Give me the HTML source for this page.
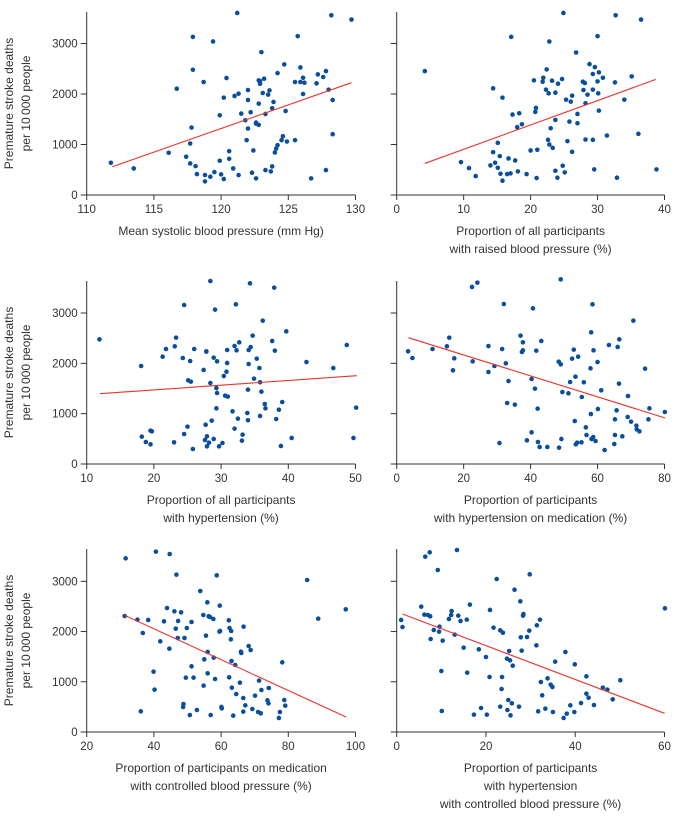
<!DOCTYPE html>
<html><head><meta charset="utf-8">
<style>
html,body{margin:0;padding:0;background:#fff;}
svg{display:block;font-family:"Liberation Sans",sans-serif;}
.tk{font-size:11.5px;fill:#333;}
.tt{font-size:12px;fill:#333;}
</style></head>
<body>
<svg id="chart" width="674" height="818" viewBox="0 0 674 818"></svg>
<script>
// ---- Panel 1: mean systolic blood pressure ----
const p1X=[111.8,113.5,116.1,116.7,117.4,117.7,117.7,117.8,117.9,117.9,118.1,118.2,118.7,118.8,118.8,119.2,119.4,119.5,119.9,119.9,120.0,120.2,120.2,120.4,120.6,120.6,120.9,121.0,121.2,121.3,121.3,121.5,121.8,121.9,122.0,122.0,122.0,122.2,122.3,122.4,122.6,122.6,122.6,122.8,122.8,122.8,122.9,122.9,123.0,123.1,123.2,123.3,123.3,123.5,123.6,123.7,123.8,123.8,123.9,124.0,124.1,124.2,124.2,124.5,124.6,124.7,124.8,124.9,125.5,125.5,125.7,125.9,125.9,126.1,126.1,126.2,126.7,127.1,127.2,127.6,127.8,127.8,128.0,128.2,128.3,128.3,129.7];
const p1Y=[638,526,836,2105,757,625,1020,1336,2480,3130,572,414,2237,270,395,362,3040,454,1579,678,408,316,1928,2316,717,868,526,1961,3605,2007,395,1612,1480,1086,1316,1882,2079,1638,441,882,1434,1414,329,1809,1388,2270,2257,2204,2829,2020,2303,1605,493,1987,2072,467,566,1717,1842,842,921,987,2414,1086,1164,2586,1664,1059,2237,1086,3145,2237,2526,2322,2000,2224,329,2211,2388,2336,2454,493,2086,3559,1204,1882,3474];
const p1LineX=[111.9,129.7];
const p1LineY=[559,2224];
const p1Ticks=[110,115,120,125,130];
// ---- Panel 2: raised blood pressure ----
const p2X=[4.2,9.6,10.8,11.8,14.0,14.4,14.4,14.7,15.1,15.1,15.4,15.5,15.8,15.8,16.5,16.7,17.0,17.1,17.3,17.7,18.0,18.1,18.3,18.7,19.4,20.0,20.5,20.7,20.8,20.9,21.0,21.8,21.9,22.3,22.4,22.6,22.7,22.8,22.8,23.0,23.2,23.3,23.7,23.7,23.7,24.0,24.1,24.7,24.8,24.9,25.1,25.3,25.5,25.8,26.0,26.2,26.2,26.8,27.0,27.0,27.8,27.9,28.1,28.2,28.2,28.5,28.8,29.3,29.3,29.3,29.5,29.6,30.0,30.0,30.1,30.2,30.2,30.8,31.4,32.6,32.7,32.9,34.0,35.1,36.1,36.5,38.8];
const p2Y=[2454,651,533,375,586,2112,849,638,1033,539,770,421,1928,283,414,724,428,3132,1592,684,1342,467,1618,1401,414,882,2270,1645,1724,336,895,2243,2322,2086,2487,1092,2013,3039,1000,1322,2263,934,1487,2026,480,342,2204,2296,579,3605,447,1888,1066,1454,1849,855,1967,2822,1605,1421,2243,2079,2217,1816,1099,1987,2592,2395,1092,2086,507,2533,3145,2250,2013,1671,2428,2322,1178,2230,3559,342,1888,2349,1211,3474,507];
const p2LineX=[4.2,38.7];
const p2LineY=[625,2289];
const p2Ticks=[0,10,20,30,40];
// ---- Panel 3: hypertension ----
const p3X=[11.9,18.1,18.2,18.8,19.5,19.5,19.7,21.3,21.8,23.0,23.1,23.3,24.3,24.5,24.5,25.0,25.1,25.4,25.5,25.8,26.0,27.4,27.6,27.7,27.8,27.8,27.9,27.9,28.2,28.4,28.4,28.6,28.9,28.9,29.1,29.3,29.3,29.4,29.4,29.7,30.2,30.4,30.6,30.8,30.9,30.9,31.0,31.7,32.0,32.0,32.2,32.3,32.5,32.7,33.1,33.2,33.9,34.0,34.0,34.1,34.1,34.3,34.4,34.7,34.9,35.3,35.7,35.8,35.8,36.0,36.2,36.5,36.6,37.6,37.9,38.0,38.2,38.6,38.9,39.1,39.7,40.5,42.7,46.7,48.7,49.7,50.1];
const p3Y=[2477,1947,543,437,391,662,649,2132,2285,430,2338,2510,2106,596,3159,742,1662,2046,1636,298,2285,1868,477,781,2238,2232,550,351,424,1609,3636,861,497,2113,3066,1510,1106,2040,1411,351,417,1748,1358,1834,2265,2007,1338,1046,2344,702,3172,2258,901,2417,464,583,1013,1477,868,1987,2265,3589,2324,2550,1695,2093,1907,954,1623,1437,2848,1192,1106,2444,3503,2252,894,1079,358,1232,2636,517,2026,1907,2364,517,1119];
const p3LineX=[12.0,50.2];
const p3LineY=[1397,1755];
const p3Ticks=[10,20,30,40,50];
// ---- Panel 4: hypertension on medication ----
const p4X=[3.4,4.7,10.7,15.0,15.7,16.8,17.2,22.5,22.7,24.1,27.4,27.4,29.2,30.7,31.5,32.0,32.6,33.0,33.4,35.3,37.0,37.4,37.7,37.7,38.9,40.3,40.3,40.7,41.3,41.7,42.1,42.2,42.7,43.2,45.0,48.4,48.5,49.0,49.0,49.2,49.5,51.3,51.8,52.4,52.9,53.2,53.4,53.5,53.9,54.2,55.2,55.3,55.9,56.5,56.7,57.9,58.0,58.1,58.2,58.5,58.7,58.8,59.4,60.0,60.1,61.1,62.1,63.4,65.0,65.2,65.2,65.7,66.0,66.4,66.5,67.4,69.0,69.1,70.0,70.7,71.6,71.7,72.5,74.2,75.2,75.5,80.1];
const p4Y=[2238,2106,2285,2338,2510,1861,2099,3517,2040,3603,1828,2344,1947,417,2285,3179,2000,1212,1649,1179,2550,2225,2258,2417,470,1689,629,3093,1497,2252,1099,437,338,2444,338,2033,325,3669,1980,497,1430,1404,1629,2093,2272,854,1735,391,424,2132,430,1331,1623,728,576,1901,993,2616,497,3172,536,2258,457,2026,1093,1464,278,2364,397,576,887,1066,2325,1596,2477,550,934,1351,841,2848,762,689,649,1894,887,1106,1033];
const p4LineX=[3.5,80.2];
const p4LineY=[2510,914];
const p4Ticks=[0,20,40,60,80];
// ---- Panel 5: controlled BP among medicated ----
const p5X=[31.6,31.3,35.1,36.1,36.7,38.3,39.9,40.2,40.6,41.9,43.0,43.9,44.6,44.7,46.1,46.5,46.7,47.1,47.2,48.1,48.7,48.8,49.1,49.5,49.8,50.7,51.2,51.2,51.8,52.8,53.8,54.7,54.8,55.0,55.5,55.9,56.0,56.0,56.3,56.7,56.9,57.7,57.8,58.2,58.7,59.5,59.6,59.7,60.1,60.2,62.3,62.4,62.5,62.9,63.0,63.1,63.2,63.6,64.2,64.5,65.6,65.9,66.0,66.6,66.6,66.7,67.2,68.2,68.8,69.3,70.1,71.3,71.0,71.8,72.0,73.8,74.1,74.2,77.2,77.5,78.2,78.8,79.1,85.6,88.9,97.1];
const p5Y=[3457,2309,2236,411,1971,2230,1201,843,3590,1805,2203,2468,1659,3543,2402,2057,3132,1871,2210,2382,498,557,1871,1082,2070,338,1307,2190,1082,438,2807,2329,922,1447,1918,2581,1593,1168,2303,2289,338,2250,1480,1055,3119,1997,2515,2011,498,471,2223,1088,2070,1845,2011,1413,883,325,1334,756,982,1599,1573,405,677,2097,531,1712,1632,458,723,1022,398,372,836,630,571,876,279,398,1387,637,524,3026,2256,2442];
const p5LineX=[31.3,97.2];
const p5LineY=[2322,299];
const p5Ticks=[20,40,60,80,100];
// ---- Panel 6: controlled BP among hypertensive ----
const p6X=[1.0,1.3,5.5,6.4,6.2,7.0,7.4,7.5,7.6,8.3,9.2,9.5,9.6,10.0,10.1,10.3,11.7,12.2,12.3,13.0,13.5,13.8,14.3,15.0,15.7,15.8,16.4,17.3,18.4,18.9,20.0,20.2,20.8,20.9,21.7,22.4,23.2,23.2,23.5,23.6,23.8,24.7,24.8,25.0,25.2,25.4,25.5,25.8,26.0,26.4,27.4,27.7,27.8,28.0,28.3,28.4,29.2,29.7,29.8,31.3,31.4,31.7,32.1,32.3,32.6,33.3,33.8,34.5,34.9,35.0,35.5,37.4,37.8,38.1,38.9,39.8,39.9,41.3,42.5,42.5,43.0,44.2,46.2,47.2,48.4,50.1,60.1];
const p6Y=[2230,2090,2495,3490,2336,2329,3577,2303,1851,2031,3225,1997,2097,1214,418,1818,2250,2329,2409,1938,3623,2316,2210,1679,2236,1181,2535,345,1646,478,1493,345,1095,2429,2077,3046,2024,504,856,1095,1977,1460,438,637,1612,1427,332,571,1320,2833,504,2601,1885,1619,2316,2349,1891,2017,3139,1725,2123,411,2236,995,730,465,1068,942,896,398,1400,279,1593,365,531,398,1347,577,763,1108,683,537,883,843,650,1029,2462];
const p6LineX=[1.3,60.0];
const p6LineY=[2349,372];
const p6Ticks=[0,20,40,60];
const yTicks=[0,1000,2000,3000];

const NS='http://www.w3.org/2000/svg';
const svg=document.getElementById('chart');
function mk(tag,attrs,parent){const e=document.createElementNS(NS,tag);for(const k in attrs)e.setAttribute(k,attrs[k]);(parent||svg).appendChild(e);return e;}

function panel(id,cfg,xs,ys,lx,ly,xt,titles,showY){
  const g=mk('g',{});
  
  
  const X=v=>cfg.x0+(v-cfg.xmin)/(cfg.xmax-cfg.xmin)*(cfg.x1-cfg.x0);
  const Y=v=>cfg.y0-v/3000*(cfg.y0-cfg.y3);
  // axes
  const ya=mk('line',{x1:cfg.x0,y1:cfg.ytop,x2:cfg.x0,y2:cfg.y0,stroke:'#333','stroke-width':1},g);
  
  
  const xa=mk('line',{x1:cfg.x0,y1:cfg.y0,x2:cfg.x1,y2:cfg.y0,stroke:'#333','stroke-width':1},g);
  
  
  yTicks.forEach(t=>{
    mk('line',{x1:cfg.x0-6,y1:Y(t),x2:cfg.x0,y2:Y(t),stroke:'#333'},g);
    if(showY){const tx=mk('text',{x:cfg.x0-9,y:Y(t)+4,'text-anchor':'end',class:'tk'},g);tx.textContent=t;
      
      }
  });
  xt.forEach(t=>{
    mk('line',{x1:X(t),y1:cfg.y0,x2:X(t),y2:cfg.y0+5,stroke:'#333'},g);
    const tx=mk('text',{x:X(t),y:cfg.y0+18,'text-anchor':'middle',class:'tk'},g);tx.textContent=t;
    
    
  });
  // points
  xs.forEach((v,i)=>{
    const c=mk('circle',{cx:X(v),cy:Y(ys[i]),r:2.3,fill:'#0a4f9c'},g);
    
    
  });
  const ln=mk('line',{x1:X(lx[0]),y1:Y(ly[0]),x2:X(lx[1]),y2:Y(ly[1]),stroke:'#e8352c','stroke-width':1.1},g);
  
  
  const cx=(cfg.x0+cfg.x1)/2;
  titles.forEach((s,i)=>{
    const tx=mk('text',{x:cx,y:cfg.y0+40+i*18,'text-anchor':'middle',class:'tt'},g);tx.textContent=s;
    
    
  });
  if(showY){
    const yc=(cfg.ytop+cfg.y0)/2;
    const t1=mk('text',{x:0,y:0,'text-anchor':'middle',class:'tt',transform:`translate(13,${yc}) rotate(-90)`},g);t1.textContent='Premature stroke deaths';
    
    
    const t2=mk('text',{x:0,y:0,'text-anchor':'middle',class:'tt',transform:`translate(30,${yc}) rotate(-90)`},g);t2.textContent='per 10\u2009000 people';
    
    
  }
}
const L={x0:86.7,x1:355.5},R={x0:396.7,x1:664.5};
const r1={y0:195,y3:43.5,ytop:12},r2={y0:464,y3:313,ytop:281},r3={y0:732,y3:581.3,ytop:549};
panel('systolic',{...L,...r1,xmin:110,xmax:130},p1X,p1Y,p1LineX,p1LineY,p1Ticks,['Mean systolic blood pressure (mm Hg)'],true);
panel('raised-bp',{...R,...r1,xmin:0,xmax:40},p2X,p2Y,p2LineX,p2LineY,p2Ticks,['Proportion of all participants','with raised blood pressure (%)'],false);
panel('hypertension',{...L,...r2,xmin:10,xmax:50},p3X,p3Y,p3LineX,p3LineY,p3Ticks,['Proportion of all participants','with hypertension (%)'],true);
panel('on-medication',{...R,...r2,xmin:0,xmax:80},p4X,p4Y,p4LineX,p4LineY,p4Ticks,['Proportion of participants','with hypertension on medication (%)'],false);
panel('controlled-medicated',{...L,...r3,xmin:20,xmax:100},p5X,p5Y,p5LineX,p5LineY,p5Ticks,['Proportion of participants on medication','with controlled blood pressure (%)'],true);
panel('controlled-hypertensive',{...R,...r3,xmin:0,xmax:60},p6X,p6Y,p6LineX,p6LineY,p6Ticks,['Proportion of participants','with hypertension','with controlled blood pressure (%)'],false);
</script>
</body></html>
